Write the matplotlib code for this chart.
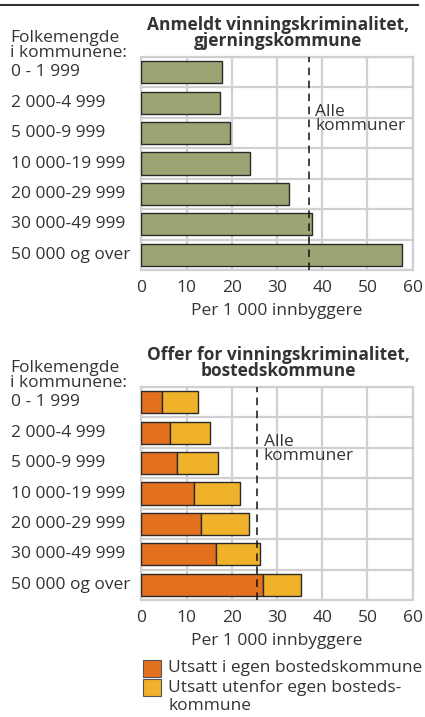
import matplotlib
matplotlib.use("Agg")
import matplotlib.pyplot as plt
from matplotlib.patches import Rectangle
from matplotlib.lines import Line2D
import numpy as np

plt.rcParams['font.family'] = ['Open Sans', 'DejaVu Sans']

categories = ["0 - 1 999", "2 000-4 999", "5 000-9 999", "10 000-19 999",
              "20 000-29 999", "30 000-49 999", "50 000 og over"]
reported = [17.8, 17.5, 19.5, 24.0, 32.7, 37.8, 57.6]
reported_all = 37.1
victim_own = [4.6, 6.4, 8.0, 11.7, 13.1, 16.6, 27.0]
victim_total = [12.6, 15.1, 16.9, 21.9, 23.7, 26.3, 35.4]
victim_outside = [t - o for t, o in zip(victim_total, victim_own)]
victim_all = 25.6
xticks = [0, 10, 20, 30, 40, 50, 60]

title_top = "Anmeldt vinningskriminalitet,\ngjerningskommune"
title_bot = "Offer for vinningskriminalitet,\nbostedskommune"
group_label = "Folkemengde\ni kommunene:"
xlabel = "Per 1 000 innbyggere"
all_label = "Alle\nkommuner"
legend_labels = ["Utsatt i egen bostedskommune", "Utsatt utenfor egen bosteds-", "kommune"]

green = "#9ea373"
orange = "#e3701f"
yellow = "#f0b12b"
txt = "#333333"
gridc = "#d0d0d0"
fs = 12.5

W, H = 425, 717
fig = plt.figure(figsize=(W / 100, H / 100), dpi=100)

def fx(px):
    return px / W

def fy(py):
    return 1 - py / H

left, right = 141.3, 412.7
ax1 = fig.add_axes([fx(left), fy(270), fx(right - left), fy(57) - fy(270)])
ax2 = fig.add_axes([fx(left), fy(600), fx(right - left), fy(387) - fy(600)])

y = np.arange(len(categories))
bh = 0.73

def style(ax, allv):
    ax.set_xlim(0, 60)
    ax.set_ylim(6.5, -0.5)
    ax.set_xticks(xticks)
    ax.set_xticklabels([str(t) for t in xticks], fontsize=fs, color=txt)
    ax.set_yticks([])
    ax.set_yticks(np.arange(-0.5, 7, 1), minor=True)
    ax.tick_params(axis='both', which='both', length=0, pad=7)
    ax.grid(True, axis='x', which='major', color=gridc, lw=1.6)
    ax.grid(True, axis='y', which='minor', color=gridc, lw=1.6)
    ax.set_axisbelow(True)
    for s in ax.spines.values():
        s.set_color(gridc)
        s.set_linewidth(1.6)
    ax.axvline(allv, color="#111111", lw=1.1, ls=(0, (5, 3.5)), zorder=5)
    ax.set_xlabel(xlabel, fontsize=fs, color=txt, labelpad=5)

ax1.barh(y, reported, height=bh, color=green, edgecolor="#2a2a2a", lw=1.0, zorder=3)
style(ax1, reported_all)
ax1.text(reported_all + 1.4, 1.55, all_label, fontsize=fs, color=txt, va='center', ha='left',
         linespacing=0.85, zorder=6)

ax2.barh(y, victim_own, height=bh, color=orange, edgecolor="#2a2a2a", lw=1.0, zorder=3)
ax2.barh(y, victim_outside, left=victim_own, height=bh, color=yellow, edgecolor="#2a2a2a", lw=1.0, zorder=3)
style(ax2, victim_all)
ax2.text(victim_all + 1.5, 1.55, all_label, fontsize=fs, color=txt, va='center', ha='left',
         linespacing=0.85, zorder=6)

# category labels
for ax in (ax1, ax2):
    for i, c in enumerate(categories):
        ax.annotate(c, xy=(0, i), xycoords=('figure fraction', 'data'),
                    xytext=(11, 0), textcoords='offset pixels',
                    fontsize=fs, color=txt, va='center', ha='left', annotation_clip=False)

# titles (last-line baseline)
fig.text(fx(278), fy(45.7), title_top, fontsize=fs, fontweight='bold', color=txt,
         ha='center', va='baseline', linespacing=0.87)
fig.text(fx(278), fy(375.7), title_bot, fontsize=fs, fontweight='bold', color=txt,
         ha='center', va='baseline', linespacing=0.87)
fig.text(fx(10), fy(56.7), group_label, fontsize=fs, color=txt, ha='left', va='baseline',
         linespacing=0.88)
fig.text(fx(10), fy(386.7), group_label, fontsize=fs, color=txt, ha='left', va='baseline',
         linespacing=0.88)

# top rule
fig.add_artist(Line2D([0, fx(418)], [fy(4.5), fy(4.5)], color="#333333", lw=1.5))

# legend
for (top, col) in ((660, orange), (679, yellow)):
    fig.add_artist(Rectangle((fx(143), fy(top + 17)), fx(18), fy(top) - fy(top + 17),
                             facecolor=col, edgecolor="#555555", lw=0.8))
fig.text(fx(168), fy(668.5), legend_labels[0], fontsize=fs, color=txt, ha='left', va='center')
fig.text(fx(168), fy(687.5), legend_labels[1], fontsize=fs, color=txt, ha='left', va='center')
fig.text(fx(168), fy(706), legend_labels[2], fontsize=fs, color=txt, ha='left', va='center')

fig.savefig("out.png", dpi=100)
